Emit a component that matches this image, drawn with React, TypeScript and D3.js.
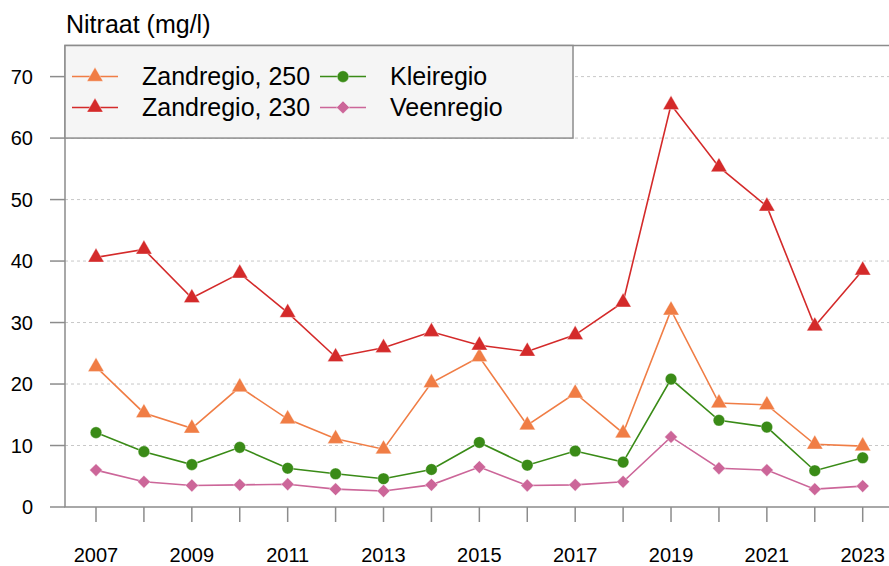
import * as d3 from "d3";

/* ------------------------------------------------------------------ */
/*  Data                                                               */
/* ------------------------------------------------------------------ */

const YEARS = [
  2007, 2008, 2009, 2010, 2011, 2012, 2013, 2014, 2015, 2016, 2017, 2018,
  2019, 2020, 2021, 2022, 2023,
];
const ZAND_250 = [
  22.8, 15.3, 12.8, 19.5, 14.3, 11.1, 9.4, 20.2, 24.4, 13.3, 18.5, 12.0, 32.0,
  16.9, 16.6, 10.2, 9.9,
];
const ZAND_230 = [
  40.6, 41.9, 34.0, 38.0, 31.6, 24.4, 25.9, 28.5, 26.3, 25.3, 28.0, 33.3, 65.4,
  55.3, 48.9, 29.4, 38.5,
];
const KLEI = [
  12.1, 9.0, 6.9, 9.7, 6.3, 5.4, 4.6, 6.1, 10.5, 6.8, 9.1, 7.3, 20.8, 14.1,
  13.0, 5.9, 8.0,
];
const VEEN = [
  6.0, 4.1, 3.5, 3.6, 3.7, 2.9, 2.6, 3.6, 6.5, 3.5, 3.6, 4.1, 11.4, 6.3, 6.0,
  2.9, 3.4,
];
const Y_TICKS = [0, 10, 20, 30, 40, 50, 60, 70];
const X_LABELS = [2007, 2009, 2011, 2013, 2015, 2017, 2019, 2021, 2023];

/* ------------------------------------------------------------------ */
/*  Theme                                                              */
/* ------------------------------------------------------------------ */

const FONT = "'Liberation Sans', Arial, Helvetica, sans-serif";
const AXIS = "#8c8c8c";
const GRID = "#c8c8c8";
const ORANGE = "#f07d45";
const RED = "#d42a2a";
const GREEN = "#3a8b17";
const PINK = "#cc6699";

type Shape = "triangle" | "circle" | "diamond";

const series: { name: string; values: number[]; color: string; shape: Shape }[] = [
  { name: "Zandregio, 250", values: ZAND_250, color: ORANGE, shape: "triangle" },
  { name: "Zandregio, 230", values: ZAND_230, color: RED, shape: "triangle" },
  { name: "Kleiregio", values: KLEI, color: GREEN, shape: "circle" },
  { name: "Veenregio", values: VEEN, color: PINK, shape: "diamond" },
];

const symbolPath = (shape: Shape) => {
  if (shape === "triangle") return d3.symbol(d3.symbolTriangle, 112)()!;
  if (shape === "circle") return d3.symbol(d3.symbolCircle, 106)()!;
  return d3.symbol(d3.symbolSquare, 82)()!;
};

function Marker({ x, y, shape, color }: { x: number; y: number; shape: Shape; color: string }) {
  const rot = shape === "diamond" ? " rotate(45)" : "";
  return (
    <path
      d={symbolPath(shape)}
      transform={`translate(${x},${y})${rot}`}
      fill={color}
      stroke="#fff"
      strokeOpacity={0.6}
      strokeWidth={0.6}
    />
  );
}

/* ------------------------------------------------------------------ */
/*  Component                                                          */
/* ------------------------------------------------------------------ */

export default function App() {
  const W = 889;
  const H = 566;
  const left = 65;
  const top = 45.5;
  const bottom = 507;

  const x = d3.scaleLinear().domain([2007, 2023]).range([96, 862.7]);
  const y = d3.scaleLinear().domain([0, 70]).range([bottom, 76.6]);

  const line = d3
    .line<number>()
    .x((_, i) => x(YEARS[i]))
    .y((d) => y(d));

  const legendRows = [76.6, 107.4];
  const legendCols = [
    { lineX: 72, markX: 95, textX: 142 },
    { lineX: 320, markX: 343, textX: 390 },
  ];

  return (
    <svg
      width={W}
      height={H}
      style={{ position: "absolute", left: 0, top: 0, background: "#fff" }}
      fontFamily={FONT}
    >
      {/* Title */}
      <text x={66} y={33} fontSize={25} fill="#000">
        Nitraat (mg/l)
      </text>

      {/* Grid */}
      {Y_TICKS.filter((t) => t > 0).map((t) => (
        <line
          key={t}
          x1={left}
          x2={W}
          y1={y(t)}
          y2={y(t)}
          stroke={GRID}
          strokeWidth={1}
          strokeDasharray="3 3"
        />
      ))}

      {/* Frame */}
      <path
        d={`M${W + 2},${top}H${left}V${bottom}H${W + 2}`}
        fill="none"
        stroke={AXIS}
        strokeWidth={1.5}
      />

      {/* Y axis */}
      {Y_TICKS.map((t) => (
        <g key={t}>
          <line x1={50} x2={left} y1={y(t)} y2={y(t)} stroke={AXIS} strokeWidth={1.5} />
          <text x={33} y={y(t)} dy="0.35em" textAnchor="end" fontSize={20} fill="#000">
            {t}
          </text>
        </g>
      ))}

      {/* X axis */}
      {YEARS.map((yr) => (
        <line
          key={yr}
          x1={x(yr)}
          x2={x(yr)}
          y1={bottom}
          y2={bottom + 15}
          stroke={AXIS}
          strokeWidth={1.5}
        />
      ))}
      {X_LABELS.map((yr) => (
        <text key={yr} x={x(yr)} y={562} textAnchor="middle" fontSize={20} fill="#000">
          {yr}
        </text>
      ))}

      {/* Series */}
      {series.map((s) => (
        <g key={s.name}>
          <path d={line(s.values)!} fill="none" stroke={s.color} strokeWidth={1.6} />
          {s.values.map((v, i) => (
            <Marker key={i} x={x(YEARS[i])} y={y(v)} shape={s.shape} color={s.color} />
          ))}
        </g>
      ))}

      {/* Legend */}
      <rect
        x={left}
        y={top}
        width={508}
        height={y(60) - top}
        fill="#f5f5f5"
        stroke={AXIS}
        strokeWidth={1.5}
      />
      {series.map((s, i) => {
        const col = legendCols[Math.floor(i / 2)];
        const ry = legendRows[i % 2];
        return (
          <g key={s.name}>
            <line x1={col.lineX} x2={col.lineX + 46} y1={ry} y2={ry} stroke={s.color} strokeWidth={1.5} />
            <Marker x={col.markX} y={ry} shape={s.shape} color={s.color} />
            <text x={col.textX} y={ry} dy="0.35em" fontSize={25} fill="#000">
              {s.name}
            </text>
          </g>
        );
      })}
    </svg>
  );
}
